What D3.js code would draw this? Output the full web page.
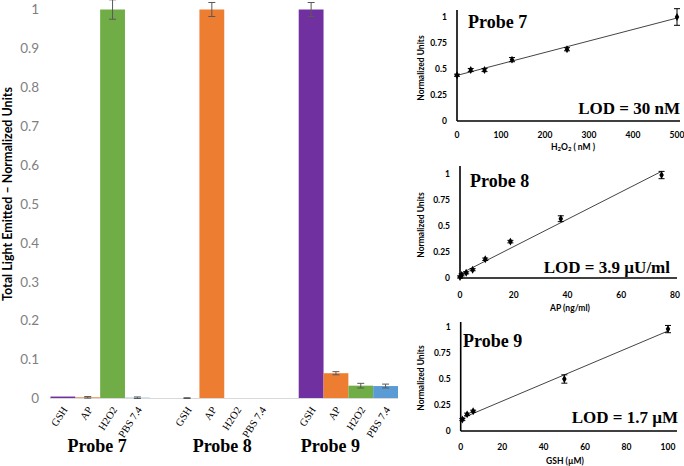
<!DOCTYPE html>
<html>
<head>
<meta charset="utf-8">
<script src="https://cdn.jsdelivr.net/npm/d3@7"></script>
<style>
  html, body { margin: 0; padding: 0; background: #fff; }
  svg { display: block; }
</style>
</head>
<body>
<svg id="chart" width="684" height="466"></svg>
<script>
// ---------- Data: left bar chart ----------
const groups = ["Probe 7", "Probe 8", "Probe 9"];
const analytes = ["GSH", "AP", "H2O2", "PBS 7.4"];
const probe7Vals = [0.005, 0.003, 1.0, 0.002];
const probe7Err  = [0, 0.002, 0.025, 0.002];
const probe8Vals = [0.001, 1.0, 0, 0];
const probe8Err  = [0.001, 0.018, 0, 0];
const probe9Vals = [1.0, 0.065, 0.033, 0.032];
const probe9Err  = [0.018, 0.004, 0.006, 0.005];
const barTicks = [0, 0.1, 0.2, 0.3, 0.4, 0.5, 0.6, 0.7, 0.8, 0.9, 1];

// ---------- Data: calibration panels ----------
const p7X = [0, 31.25, 62.5, 125, 250, 500];
const p7Y = [0.44, 0.49, 0.49, 0.59, 0.69, 1.0];
const p7E = [0.01, 0.015, 0.015, 0.02, 0.015, 0.08];
const p7XTicks = [0, 100, 200, 300, 400, 500];

const p8X = [0, 0.6, 2.3, 4.7, 9.4, 18.75, 37.5, 75];
const p8Y = [0.01, 0.03, 0.05, 0.08, 0.18, 0.35, 0.57, 0.99];
const p8E = [0.01, 0.01, 0.01, 0.01, 0.012, 0.012, 0.028, 0.035];
const p8XTicks = [0, 20, 40, 60, 80];

const p9X = [0.8, 3.1, 6, 50, 100];
const p9Y = [0.11, 0.16, 0.19, 0.5, 0.98];
const p9E = [0.01, 0.012, 0.01, 0.04, 0.035];
const p9XTicks = [0, 20, 40, 60, 80, 100];

const calYTicks = [0, 0.25, 0.5, 0.75, 1];

const barValues = [probe7Vals, probe8Vals, probe9Vals];
const barErrors = [probe7Err, probe8Err, probe9Err];
const colors = ["#7030a0", "#ed7d31", "#70ad47", "#5b9bd5"];

const svg = d3.select("#chart");
const SERIF = "'Liberation Serif', 'DejaVu Serif', serif";
const SANS = "Lato, 'Open Sans', sans-serif";

// ---------- Left bar chart ----------
const yBar = d3.scaleLinear().domain([0, 1]).range([398.5, 9.5]);
const xGroup = d3.scaleBand().domain(groups).range([50.5, 398]).paddingInner(0.2).paddingOuter(0);
const xInner = d3.scaleBand().domain(analytes).range([0, xGroup.bandwidth()]).padding(0);

const gBar = svg.append("g");

// y tick labels
gBar.selectAll("text.ytick").data(barTicks).join("text")
  .attr("x", 39).attr("y", d => yBar(d))
  .attr("dy", "0.35em")
  .attr("text-anchor", "end")
  .attr("font-family", SANS).attr("font-size", 13.5).attr("fill", "#7f7f7f")
  .text(d => d3.format("")(d));

// bars
const barData = [];
groups.forEach((g, gi) => analytes.forEach((a, ai) => {
  barData.push({ g, a, ai, v: barValues[gi][ai], e: barErrors[gi][ai] });
}));

gBar.selectAll("rect.bar").data(barData).join("rect")
  .attr("x", d => xGroup(d.g) + xInner(d.a))
  .attr("width", xInner.bandwidth())
  .attr("y", d => yBar(d.v))
  .attr("height", d => yBar(0) - yBar(d.v))
  .attr("fill", d => colors[d.ai]);

// x axis baseline
gBar.append("line")
  .attr("x1", xGroup.range()[0]).attr("x2", xGroup.range()[1])
  .attr("y1", yBar(0)).attr("y2", yBar(0))
  .attr("stroke", "#d9d9d9").attr("stroke-width", 1.2);

// error bars
const errG = gBar.selectAll("g.err").data(barData.filter(d => d.e > 0)).join("g")
  .attr("stroke", "#595959").attr("stroke-width", 1);
errG.each(function(d) {
  const cx = xGroup(d.g) + xInner(d.a) + xInner.bandwidth() / 2;
  const g = d3.select(this);
  g.append("line").attr("x1", cx).attr("x2", cx).attr("y1", yBar(d.v - d.e)).attr("y2", yBar(d.v + d.e));
  g.append("line").attr("x1", cx - 3.5).attr("x2", cx + 3.5).attr("y1", yBar(d.v - d.e)).attr("y2", yBar(d.v - d.e));
  g.append("line").attr("x1", cx - 3.5).attr("x2", cx + 3.5).attr("y1", yBar(d.v + d.e)).attr("y2", yBar(d.v + d.e));
});

// category labels (rotated)
gBar.selectAll("text.cat").data(barData).join("text")
  .attr("transform", d => {
    const cx = xGroup(d.g) + xInner(d.a) + xInner.bandwidth() / 2 + 2;
    return `translate(${cx},${yBar(0) + 9}) rotate(-57)`;
  })
  .attr("text-anchor", "end")
  .attr("dy", "0.35em")
  .attr("font-family", SERIF).attr("font-size", 10.5).attr("fill", "#000")
  .text(d => d.a);

// group labels
const groupLabelShift = [-3, -2, -18];
gBar.selectAll("text.grp").data(groups).join("text")
  .attr("x", (d, i) => xGroup(d) + xGroup.bandwidth() / 2 + groupLabelShift[i])
  .attr("y", 452)
  .attr("text-anchor", "middle")
  .attr("font-family", SERIF).attr("font-size", 18).attr("font-weight", "bold")
  .text(d => d);

// y axis title
svg.append("text")
  .attr("transform", `translate(8,${(yBar(0) + yBar(1)) / 2 - 10}) rotate(-90)`)
  .attr("text-anchor", "middle")
  .attr("dy", "0.35em")
  .attr("font-family", SANS).attr("font-size", 12.5).attr("font-weight", "bold")
  .text("Total Light Emitted \u2013 Normalized Units");

// ---------- Calibration panels ----------
function regression(xs, ys) {
  const n = xs.length;
  const mx = d3.mean(xs), my = d3.mean(ys);
  let sxy = 0, sxx = 0;
  for (let i = 0; i < n; i++) { sxy += (xs[i] - mx) * (ys[i] - my); sxx += (xs[i] - mx) ** 2; }
  const b = sxy / sxx;
  return { a: my - b * mx, b };
}

function panel(cfg) {
  const g = svg.append("g");
  const x = d3.scaleLinear().domain(cfg.xDomain).range(cfg.xRange);
  const y = d3.scaleLinear().domain([0, 1]).range(cfg.yRange);

  // axes lines
  g.append("line").attr("x1", cfg.xRange[0]).attr("x2", cfg.axisEnd)
    .attr("y1", y(0)).attr("y2", y(0)).attr("stroke", "#000").attr("stroke-width", 1.6);
  g.append("line").attr("x1", cfg.xRange[0]).attr("x2", cfg.xRange[0])
    .attr("y1", y(0)).attr("y2", cfg.axisTop).attr("stroke", "#000").attr("stroke-width", 1.6);

  // y tick labels
  g.selectAll("text.yt").data(calYTicks).join("text")
    .attr("x", cfg.xRange[0] - 10).attr("y", d => y(d)).attr("dy", "0.35em")
    .attr("text-anchor", "end")
    .attr("font-family", SANS).attr("font-size", 8.5).attr("font-weight", "bold")
    .text(d => d3.format("")(d));

  // x tick labels
  g.selectAll("text.xt").data(cfg.xTicks).join("text")
    .attr("x", d => x(d)).attr("y", y(0) + cfg.tickDy).attr("dy", "0.35em")
    .attr("text-anchor", "middle")
    .attr("font-family", SANS).attr("font-size", 8.5).attr("font-weight", "bold")
    .text(d => d);

  // y axis title
  g.append("text")
    .attr("transform", `translate(421,${(y(0) + y(1)) / 2 - 1}) rotate(-90)`)
    .attr("text-anchor", "middle").attr("dy", "0.35em")
    .attr("font-family", SANS).attr("font-size", 8.5).attr("font-weight", "bold")
    .text("Normalized Units");

  // x axis title
  const xt = g.append("text")
    .attr("x", cfg.xTitleX).attr("y", cfg.xTitleY).attr("dy", "0.35em")
    .attr("text-anchor", "middle")
    .attr("font-family", SANS).attr("font-size", 8.5).attr("font-weight", "bold");
  cfg.xTitle.forEach(part => {
    const t = xt.append("tspan").text(part.t);
    if (part.sub) t.attr("font-size", 6).attr("dy", 1.5);
    else if (part.after) t.attr("dy", -1.5);
  });

  // regression line
  const r = regression(cfg.xs, cfg.ys);
  const lx = [0, d3.max(cfg.xs)];
  g.append("line")
    .attr("x1", x(lx[0])).attr("y1", y(r.a + r.b * lx[0]))
    .attr("x2", x(lx[1])).attr("y2", y(r.a + r.b * lx[1]))
    .attr("stroke", "#444").attr("stroke-width", 1);

  // error bars & points
  const pts = cfg.xs.map((v, i) => ({ x: v, y: cfg.ys[i], e: cfg.es[i] }));
  const eg = g.selectAll("g.pt").data(pts).join("g").attr("stroke", "#000").attr("stroke-width", 1);
  eg.append("line").attr("x1", d => x(d.x)).attr("x2", d => x(d.x))
    .attr("y1", d => y(d.y - d.e)).attr("y2", d => y(d.y + d.e));
  eg.append("line").attr("x1", d => x(d.x) - 3).attr("x2", d => x(d.x) + 3)
    .attr("y1", d => y(d.y - d.e)).attr("y2", d => y(d.y - d.e));
  eg.append("line").attr("x1", d => x(d.x) - 3).attr("x2", d => x(d.x) + 3)
    .attr("y1", d => y(d.y + d.e)).attr("y2", d => y(d.y + d.e));
  g.selectAll("path.pt").data(pts).join("path")
    .attr("transform", d => `translate(${x(d.x)},${y(d.y)})`)
    .attr("d", d3.symbol(d3.symbolDiamond, 18))
    .attr("fill", "#000");

  // labels
  g.append("text").attr("x", cfg.probeX).attr("y", cfg.probeY)
    .attr("font-family", SERIF).attr("font-size", 18).attr("font-weight", "bold")
    .text(cfg.probe);
  g.append("text").attr("x", cfg.lodX).attr("y", cfg.lodY).attr("text-anchor", "end")
    .attr("font-family", SERIF).attr("font-size", 17).attr("font-weight", "bold")
    .text(cfg.lod);
}

panel({
  xDomain: [0, 500], xRange: [457, 677], yRange: [121, 17], axisEnd: 680, axisTop: 10,
  xTicks: p7XTicks, tickDy: 14, xs: p7X, ys: p7Y, es: p7E,
  xTitle: [{ t: "H" }, { t: "2", sub: true }, { t: "O", after: true }, { t: "2", sub: true }, { t: " ( nM )", after: true }],
  xTitleX: 573, xTitleY: 147,
  probe: "Probe 7", probeX: 468, probeY: 28, lod: "LOD = 30 nM", lodX: 680, lodY: 114
});

panel({
  xDomain: [0, 80], xRange: [460, 675], yRange: [278, 174], axisEnd: 677, axisTop: 166,
  xTicks: p8XTicks, tickDy: 17, xs: p8X, ys: p8Y, es: p8E,
  xTitle: [{ t: "AP (ng/ml)" }],
  xTitleX: 570, xTitleY: 308,
  probe: "Probe 8", probeX: 470, probeY: 187, lod: "LOD = 3.9 \u00b5U/ml", lodX: 670, lodY: 273
});

panel({
  xDomain: [0, 100], xRange: [460.7, 668], yRange: [431, 327], axisEnd: 677, axisTop: 322,
  xTicks: p9XTicks, tickDy: 16, xs: p9X, ys: p9Y, es: p9E,
  xTitle: [{ t: "GSH  (\u00b5M)" }],
  xTitleX: 565, xTitleY: 461,
  probe: "Probe 9", probeX: 463, probeY: 347, lod: "LOD = 1.7 \u00b5M", lodX: 678, lodY: 423
});
</script>
</body>
</html>
